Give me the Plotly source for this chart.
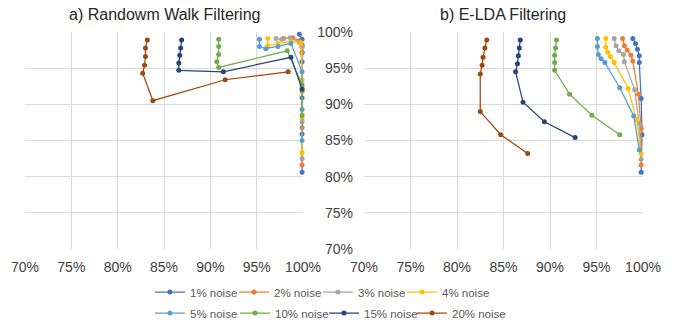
import plotly.graph_objects as go

series_names = ["1% noise", "2% noise", "3% noise", "4% noise",
                "5% noise", "10% noise", "15% noise", "20% noise"]
colors = ["#4472C4", "#ED7D31", "#A5A5A5", "#FFC000",
          "#5B9BD5", "#70AD47", "#264478", "#9E480E"]

# a) Random walk filtering
rw_1_x = [0.996, 0.999, 0.999, 0.999, 0.999, 0.999, 0.999, 0.999]
rw_1_y = [0.997, 0.990, 0.982, 0.972, 0.959, 0.909, 0.859, 0.806]
rw_2_x = [0.979, 0.989, 0.996, 0.999, 0.999, 0.999, 0.999, 0.999]
rw_2_y = [0.991, 0.992, 0.988, 0.980, 0.971, 0.918, 0.868, 0.816]
rw_3_x = [0.971, 0.977, 0.986, 0.996, 0.999, 0.999, 0.999, 0.999]
rw_3_y = [0.991, 0.990, 0.992, 0.986, 0.979, 0.923, 0.876, 0.825]
rw_4_x = [0.962, 0.962, 0.973, 0.987, 0.998, 0.999, 0.999, 0.999]
rw_4_y = [0.991, 0.981, 0.984, 0.987, 0.985, 0.934, 0.880, 0.833]
rw_5_x = [0.953, 0.953, 0.960, 0.973, 0.987, 0.999, 0.999, 0.999]
rw_5_y = [0.990, 0.980, 0.977, 0.980, 0.984, 0.945, 0.893, 0.850]
rw_10_x = [0.909, 0.909, 0.909, 0.907, 0.909, 0.983, 0.999, 0.999]
rw_10_y = [0.990, 0.980, 0.969, 0.959, 0.951, 0.974, 0.927, 0.885]
rw_15_x = [0.869, 0.868, 0.867, 0.866, 0.866, 0.914, 0.987, 0.999]
rw_15_y = [0.989, 0.978, 0.968, 0.957, 0.947, 0.945, 0.965, 0.921]
rw_20_x = [0.832, 0.830, 0.830, 0.829, 0.827, 0.838, 0.916, 0.984]
rw_20_y = [0.989, 0.978, 0.966, 0.954, 0.943, 0.905, 0.934, 0.945]

# b) E-LDA filtering
el_1_x = [0.989, 0.992, 0.994, 0.996, 0.996, 0.998, 0.999, 0.998]
el_1_y = [0.991, 0.984, 0.976, 0.967, 0.958, 0.908, 0.858, 0.806]
el_2_x = [0.978, 0.980, 0.983, 0.987, 0.989, 0.995, 0.998, 0.998]
el_2_y = [0.991, 0.981, 0.975, 0.968, 0.960, 0.914, 0.867, 0.816]
el_3_x = [0.969, 0.971, 0.974, 0.979, 0.980, 0.991, 0.996, 0.998]
el_3_y = [0.991, 0.981, 0.974, 0.969, 0.959, 0.920, 0.873, 0.824]
el_4_x = [0.960, 0.960, 0.962, 0.965, 0.969, 0.984, 0.993, 0.998]
el_4_y = [0.991, 0.979, 0.972, 0.966, 0.958, 0.922, 0.879, 0.832]
el_5_x = [0.951, 0.951, 0.952, 0.955, 0.959, 0.975, 0.990, 0.996]
el_5_y = [0.991, 0.980, 0.969, 0.963, 0.958, 0.923, 0.884, 0.837]
el_10_x = [0.907, 0.906, 0.905, 0.905, 0.905, 0.921, 0.945, 0.975]
el_10_y = [0.989, 0.978, 0.968, 0.958, 0.947, 0.914, 0.885, 0.858]
el_15_x = [0.868, 0.867, 0.866, 0.865, 0.863, 0.871, 0.894, 0.927]
el_15_y = [0.989, 0.978, 0.967, 0.956, 0.945, 0.903, 0.876, 0.854]
el_20_x = [0.832, 0.830, 0.828, 0.827, 0.825, 0.825, 0.847, 0.876]
el_20_y = [0.989, 0.978, 0.965, 0.954, 0.942, 0.890, 0.858, 0.832]

rw_series = [(rw_1_x, rw_1_y), (rw_2_x, rw_2_y), (rw_3_x, rw_3_y), (rw_4_x, rw_4_y),
             (rw_5_x, rw_5_y), (rw_10_x, rw_10_y), (rw_15_x, rw_15_y), (rw_20_x, rw_20_y)]
el_series = [(el_1_x, el_1_y), (el_2_x, el_2_y), (el_3_x, el_3_y), (el_4_x, el_4_y),
             (el_5_x, el_5_y), (el_10_x, el_10_y), (el_15_x, el_15_y), (el_20_x, el_20_y)]

# legend text start positions (px) for each entry, and row centres
legend_text_x = [190, 274, 358, 442, 190, 275, 364, 452]
legend_row_y = [292, 292, 292, 292, 313, 313, 313, 313]

W, H = 684, 324
fig = go.Figure()

for i, (xs, ys) in enumerate(rw_series):
    fig.add_trace(go.Scatter(x=xs, y=ys, mode="lines+markers", name=series_names[i],
                             line=dict(color=colors[i], width=1.25),
                             marker=dict(color=colors[i], size=5),
                             xaxis="x", yaxis="y", showlegend=False, cliponaxis=False))
for i, (xs, ys) in enumerate(el_series):
    fig.add_trace(go.Scatter(x=xs, y=ys, mode="lines+markers", name=series_names[i],
                             line=dict(color=colors[i], width=1.25),
                             marker=dict(color=colors[i], size=5),
                             xaxis="x2", yaxis="y2", showlegend=True,
                             legend="legend" if i == 0 else f"legend{i + 1}",
                             cliponaxis=False))

ydom = [1 - 249 / H, 1 - 32 / H]
axis_font = dict(family="Liberation Sans, Arial, sans-serif", size=14, color="#404040")
common = dict(range=[0.70, 1.0], dtick=0.05, tick0=0.70, tickformat=".0%",
              showgrid=True, gridcolor="#D9D9D9", gridwidth=1, zeroline=False,
              showline=False, ticks="", tickfont=axis_font, automargin=False)

legend_font = dict(family="Liberation Sans Narrow, Arial Narrow, Liberation Sans, sans-serif",
                   size=11.5, color="#595959")
legends = {}
for i in range(8):
    key = "legend" if i == 0 else f"legend{i + 1}"
    legends[key] = dict(orientation="h", x=(legend_text_x[i] - 40) / W, xanchor="left",
                        y=1 - legend_row_y[i] / H, yanchor="middle", font=legend_font,
                        bgcolor="rgba(0,0,0,0)", borderwidth=0, itemwidth=30)

fig.update_layout(
    width=W, height=H,
    margin=dict(l=0, r=0, t=0, b=0, pad=0, autoexpand=False),
    paper_bgcolor="white", plot_bgcolor="white",
    xaxis=dict(domain=[25 / W, 303 / W], anchor="y", ticklabelstandoff=8, **common),
    yaxis=dict(domain=ydom, anchor="x", showticklabels=False, **common),
    xaxis2=dict(domain=[364 / W, 643 / W], anchor="y2", ticklabelstandoff=8, **common),
    yaxis2=dict(domain=ydom, anchor="x2", ticklabelstandoff=10, **common),
    annotations=[
        dict(text="a) Randowm Walk Filtering", x=164 / W, y=1 - 15 / H, xref="paper", yref="paper",
             showarrow=False, xanchor="center", yanchor="middle",
             font=dict(family="Liberation Sans, Arial, sans-serif", size=16, color="#262626")),
        dict(text="b) E-LDA Filtering", x=503 / W, y=1 - 15 / H, xref="paper", yref="paper",
             showarrow=False, xanchor="center", yanchor="middle",
             font=dict(family="Liberation Sans, Arial, sans-serif", size=16, color="#262626")),
    ],
    **legends,
)

fig.write_html("out.html", config={"displayModeBar": False},
               post_script="document.body.style.margin='0px';")
